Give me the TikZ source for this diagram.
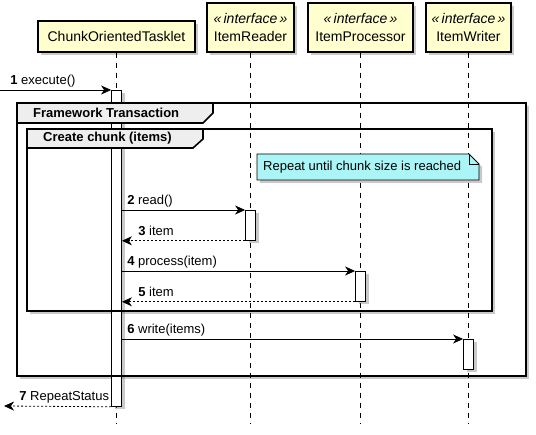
\documentclass[tikz,border=0pt]{standalone}
\usepackage{fontspec}
\setmainfont{Liberation Sans}
\usetikzlibrary{arrows.meta,shadows}

\definecolor{partfill}{HTML}{FEFECE}
\definecolor{notefill}{HTML}{ABF5F7}
\definecolor{tabfill}{HTML}{EEEEEE}

\tikzset{
  shade3/.style={drop shadow={shadow xshift=3pt,shadow yshift=-3pt,opacity=0.35,fill=black!60}},
  part/.style={draw=black,line width=1.2pt,fill=partfill,shade3,inner sep=0pt,align=center,font=\fontsize{14}{18}\selectfont},
  life/.style={dash pattern=on 5pt off 5pt,line width=0.8pt},
  act/.style={draw,fill=white,line width=0.8pt,minimum width=10pt,inner sep=0pt,anchor=north,shade3},
  msg/.style={-{Stealth[length=10pt,width=9pt,inset=3pt]},line width=0.8pt},
  ret/.style={msg,dash pattern=on 2pt off 2pt},
  lbl/.style={font=\fontsize{13}{15}\selectfont,anchor=base west,inner sep=0pt},
  grp/.style={line width=1.6pt},
  grptitle/.style={font=\fontsize{13}{15}\selectfont\bfseries,anchor=west,inner sep=0pt},
  notetext/.style={font=\fontsize{13}{15}\selectfont,anchor=west,inner sep=0pt}
}

\begin{document}
\begin{tikzpicture}[x=1pt,y=-1pt]
\useasboundingbox (0,0) rectangle (536,435);

% group frames, body
\fill[white,shade3] (17,103) rectangle (526,376);
\fill[white,shade3] (27,129) rectangle (492,311);

% participants
\node[part,minimum width=157pt,minimum height=31pt] (tasklet) at (116.5,36.5) {ChunkOrientedTasklet};
\node[part,minimum width=87pt,minimum height=49pt] (reader) at (250.5,27.5) {\textit{«\,interface\,»}\\ItemReader};
\node[part,minimum width=105pt,minimum height=49pt] (processor) at (360.5,27.5) {\textit{«\,interface\,»}\\ItemProcessor};
\node[part,minimum width=85pt,minimum height=49pt] (writer) at (468.5,27.5) {\textit{«\,interface\,»}\\ItemWriter};

% lifelines
\coordinate (bot) at (0,424);
\foreach \p in {tasklet,reader,processor,writer}
  \draw[life] (\p.south) -- (\p.south |- bot);

% activations
\node[act,minimum height=316pt] (a1) at (tasklet.south |- 0,90) {};
\node[act,minimum height=30pt] (a2) at (reader.south |- 0,210) {};
\node[act,minimum height=30pt] (a3) at (processor.south |- 0,271) {};
\node[act,minimum height=30pt] (a4) at (writer.south |- 0,339) {};

% group frames, borders and tabs
\draw[grp] (17,103) rectangle (526,376);
\draw[grp,fill=tabfill] (17,103) -- (213,103) -- (213,113) -- (203,123) -- (17,123) -- cycle;
\node[grptitle] (ft) at (33,113) {Framework Transaction};
\draw[grp] (27,129) rectangle (492,311);
\draw[grp,fill=tabfill] (27,129) -- (203,129) -- (203,139) -- (193,148) -- (27,148) -- cycle;
\node[grptitle] (cc) at (43,138.5) {Create chunk (items)};

% note
\draw[line width=0.8pt,fill=notefill,shade3] (257,154) -- (469,154) -- (479,164) -- (479,180) -- (257,180) -- cycle;
\draw[line width=0.8pt] (469,154) -- (469,164) -- (479,164);
\node[notetext] (note) at (263,167) {Repeat until chunk size is reached};

% messages
\coordinate (in) at (0,90);
\coordinate (out) at (4,406);
\draw[msg] (in) -- node[lbl,pos=0,xshift=10pt,yshift=5pt] {\textbf{1} execute()} (a1.north west);
\draw[msg] (a1.east |- a2.north) -- node[lbl,pos=0,xshift=5pt,yshift=5pt] {\textbf{2} read()} (a2.north west);
\draw[ret] (a2.south west) -- node[lbl,pos=1,xshift=16pt,yshift=5pt] {\textbf{3} item} (a1.east |- a2.south);
\draw[msg] (a1.east |- a3.north) -- node[lbl,pos=0,xshift=5pt,yshift=5pt] {\textbf{4} process(item)} (a3.north west);
\draw[ret] (a3.south west) -- node[lbl,pos=1,xshift=16pt,yshift=5pt] {\textbf{5} item} (a1.east |- a3.south);
\draw[msg] (a1.east |- a4.north) -- node[lbl,pos=0,xshift=5pt,yshift=5pt] {\textbf{6} write(items)} (a4.north west);
\draw[ret] (a1.south west) -- node[lbl,pos=1,xshift=15pt,yshift=5pt] {\textbf{7} RepeatStatus} (out);
\end{tikzpicture}
\end{document}
